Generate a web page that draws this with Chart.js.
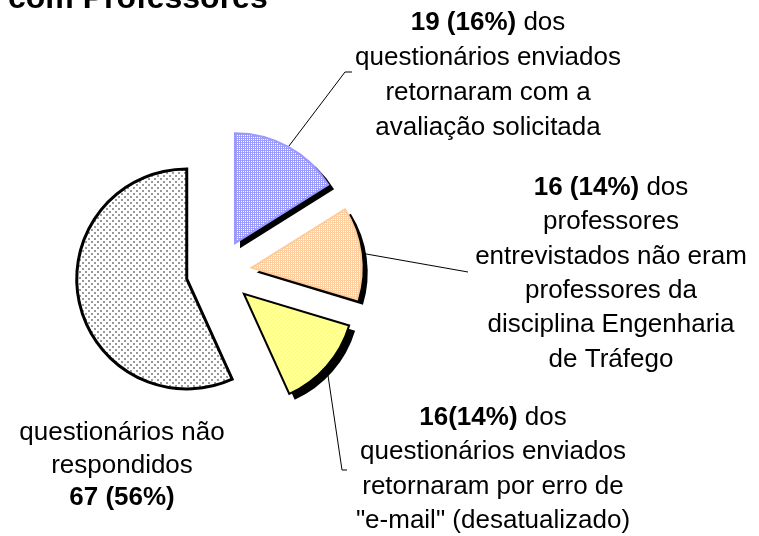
<!DOCTYPE html>
<html>
<head>
<meta charset="utf-8">
<script src="https://cdn.jsdelivr.net/npm/chart.js@4.4.0/dist/chart.umd.min.js"></script>
<style>
  body { margin: 0; background: #fff; }
  #myChart { display: block; }
</style>
</head>
<body>
<canvas id="myChart" width="759" height="536"></canvas>
<script>
// data
var categories = ['avaliação solicitada', 'não eram professores da disciplina', 'erro de e-mail', 'não respondidos'];
var values = [19, 16, 16, 67];
var boldParts = ['19 (16%)', '16 (14%)', '16(14%)', '67 (56%)'];
var labelLines = [
    [[boldParts[0], ' dos'], ['', 'questionários enviados'], ['', 'retornaram com a'], ['', 'avaliação solicitada']],
    [[boldParts[1], ' dos'], ['', 'professores'], ['', 'entrevistados não eram'], ['', 'professores da'], ['', 'disciplina Engenharia'], ['', 'de Tráfego']],
    [[boldParts[2], ' dos'], ['', 'questionários enviados'], ['', 'retornaram por erro de'], ['', '"e-mail" (desatualizado)']],
    [['', 'questionários não'], ['', 'respondidos'], [boldParts[3], '']]
];
var titleText = 'com Professores';

document.addEventListener('DOMContentLoaded', function() {
    var FONT = '"Liberation Sans", Arial, sans-serif';
    var EXPLODE = 33;

    function makePattern(w, h, bg, fg, dots, size) {
        var c = document.createElement('canvas');
        c.width = w; c.height = h;
        var g = c.getContext('2d');
        g.fillStyle = bg;
        g.fillRect(0, 0, w, h);
        g.fillStyle = fg;
        dots.forEach(function(d) { g.fillRect(d[0], d[1], size, size); });
        return document.getElementById('myChart').getContext('2d').createPattern(c, 'repeat');
    }

    var fills = [
        makePattern(4, 4, '#9c9cff', '#ffffff', [[1, 1], [3, 3], [1, 3], [3, 1]], 1),
        makePattern(4, 4, '#ffcf9f', '#ffffff', [[1, 1], [3, 3], [1, 3], [3, 1]], 1),
        makePattern(4, 4, '#ffff8c', '#ffffff', [[1, 1], [3, 3]], 1),
        makePattern(6, 6, '#ffffff', '#999999', [[1, 1], [4, 4]], 2)
    ];
    var borders = ['#9999ff', '#ffcc99', '#000000', '#000000'];
    var borderWidths = [2, 2, 2, 3];
    var shadows = [true, true, true, false];

    // anchors for the callout lines (end points next to the texts)
    var leaders = [
        [[345, 72], [352, 72]],
        [[468, 272]],
        [[342, 470], [347, 470]],
        null
    ];
    var labelPos = [
        { x: 488, y: 23, step: 35 },
        { x: 611, y: 188, step: 34.3 },
        { x: 493, y: 418, step: 34.3 },
        { x: 122, y: 433, step: 32.5 }
    ];

    var explodePlugin = {
        id: 'explode',
        afterUpdate: function(chart) {
            var meta = chart.getDatasetMeta(0);
            meta.data.forEach(function(arc) {
                var mid = (arc.startAngle + arc.endAngle) / 2;
                arc.x = arc.x + Math.cos(mid) * EXPLODE;
                arc.y = arc.y + Math.sin(mid) * EXPLODE;
            });
        },
        beforeDatasetsDraw: function(chart) {
            var ctx = chart.ctx;
            var meta = chart.getDatasetMeta(0);
            ctx.save();
            // leader lines, under the slices
            ctx.strokeStyle = '#000';
            ctx.lineWidth = 1;
            meta.data.forEach(function(arc, i) {
                if (!leaders[i]) return;
                var mid = (arc.startAngle + arc.endAngle) / 2;
                ctx.beginPath();
                ctx.moveTo(arc.x + Math.cos(mid) * arc.outerRadius, arc.y + Math.sin(mid) * arc.outerRadius);
                leaders[i].forEach(function(p) { ctx.lineTo(p[0], p[1]); });
                ctx.stroke();
            });
            // solid shadows
            ctx.fillStyle = '#000';
            meta.data.forEach(function(arc, i) {
                if (!shadows[i]) return;
                ctx.beginPath();
                ctx.moveTo(arc.x + 5, arc.y + 5);
                ctx.arc(arc.x + 5, arc.y + 5, arc.outerRadius + 1, arc.startAngle, arc.endAngle);
                ctx.closePath();
                ctx.fill();
            });
            ctx.restore();
        },
        afterDraw: function(chart) {
            var ctx = chart.ctx;
            ctx.save();
            ctx.fillStyle = '#000';
            ctx.textBaseline = 'alphabetic';
            ctx.textAlign = 'left';
            ctx.font = 'bold 32px ' + FONT;
            ctx.fillText(titleText, 8, 8);

            ctx.textBaseline = 'middle';
            labelLines.forEach(function(lines, i) {
                var pos = labelPos[i];
                lines.forEach(function(seg, j) {
                    ctx.font = 'bold 26px ' + FONT;
                    var wb = ctx.measureText(seg[0]).width;
                    ctx.font = '26px ' + FONT;
                    var wn = ctx.measureText(seg[1]).width;
                    var x0 = pos.x - (wb + wn) / 2;
                    var y = pos.y + j * pos.step;
                    ctx.font = 'bold 26px ' + FONT;
                    ctx.fillText(seg[0], x0, y);
                    ctx.font = '26px ' + FONT;
                    ctx.fillText(seg[1], x0 + wb, y);
                });
            });
            ctx.restore();
        }
    };

    var ctx = document.getElementById('myChart').getContext('2d');
    var myChart = new Chart(ctx, {
        type: 'pie',
        data: {
            labels: categories,
            datasets: [{
                data: values,
                backgroundColor: fills,
                borderColor: borders,
                borderWidth: borderWidths,
                borderJoinStyle: 'miter',
                borderAlign: 'center',
                radius: 110
            }]
        },
        options: {
            responsive: false,
            animation: false,
            events: [],
            layout: { padding: { left: 0, right: 321, top: 50, bottom: 42 } },
            plugins: {
                legend: { display: false },
                tooltip: { enabled: false }
            }
        },
        plugins: [explodePlugin]
    });
});
</script>
</body>
</html>
